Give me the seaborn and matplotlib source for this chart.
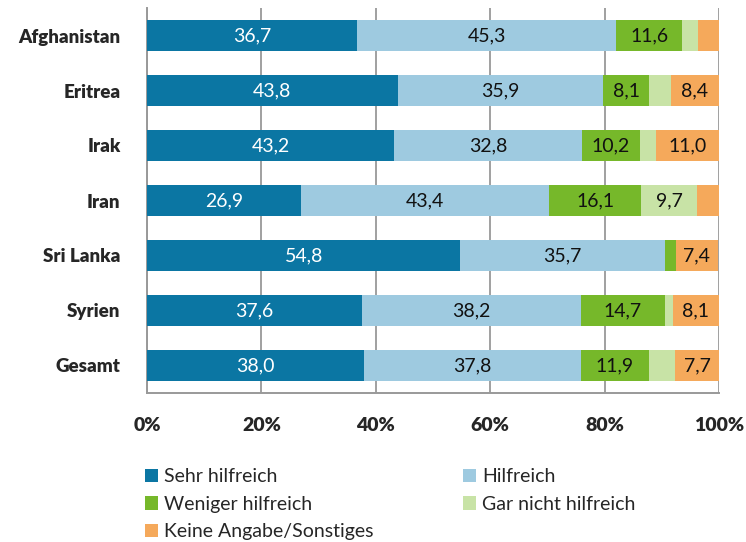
import matplotlib
matplotlib.use("Agg")
import matplotlib.pyplot as plt
from matplotlib import font_manager
from matplotlib.patches import Patch
import numpy as np
import pandas as pd
import seaborn as sns

countries = ["Afghanistan", "Eritrea", "Irak", "Iran", "Sri Lanka", "Syrien", "Gesamt"]
sehr_hilfreich = [36.7, 43.8, 43.2, 26.9, 54.8, 37.6, 38.0]
hilfreich = [45.3, 35.9, 32.8, 43.4, 35.7, 38.2, 37.8]
weniger_hilfreich = [11.6, 8.1, 10.2, 16.1, 1.9, 14.7, 11.9]
gar_nicht_hilfreich = [2.8, 3.8, 2.8, 9.7, 0.0, 1.4, 4.6]
keine_angabe = [3.6, 8.4, 11.0, 3.9, 7.4, 8.1, 7.7]

series_names = ["Sehr hilfreich", "Hilfreich", "Weniger hilfreich",
                "Gar nicht hilfreich", "Keine Angabe/Sonstiges"]
series_values = [sehr_hilfreich, hilfreich, weniger_hilfreich,
                 gar_nicht_hilfreich, keine_angabe]
colors = ["#0b76a3", "#9ecae0", "#76b82a", "#c8e3a6", "#f5a95b"]
text_colors = ["white", "#111111", "#111111", "#111111", "#111111"]
# segments that carry a printed value
labelled = [
    [True] * 7,
    [True] * 7,
    [True, True, True, True, False, True, True],
    [False, False, False, True, False, False, False],
    [False, True, True, False, True, True, True],
]
xticks = [0, 20, 40, 60, 80, 100]
xtick_labels = ["0%", "20%", "40%", "60%", "80%", "100%"]

sns.set_theme(style="white")
available = {f.name for f in font_manager.fontManager.ttflist}
base_font = "Lato" if "Lato" in available else "DejaVu Sans"
plt.rcParams["font.family"] = [base_font, "DejaVu Sans"]

fig = plt.figure(figsize=(7.46, 5.42), dpi=100)
ax = fig.add_axes([147 / 746, 1 - 393 / 542, 572 / 746, 385 / 542])

df = pd.DataFrame({"Land": countries})
cum = np.zeros(len(countries))
cums = []
for vals in series_values:
    cum = cum + np.array(vals)
    cums.append(cum.copy())

# stacked bars: draw cumulative totals from the outermost layer inward
for i in range(len(series_values) - 1, -1, -1):
    df["wert"] = cums[i]
    sns.barplot(data=df, y="Land", x="wert", orient="h", color=colors[i],
                saturation=1, width=0.58, ax=ax, zorder=3, linewidth=0)

for i, vals in enumerate(series_values):
    starts = cums[i] - np.array(vals)
    for j, v in enumerate(vals):
        if labelled[i][j]:
            ax.text(starts[j] + v / 2, j, f"{v:.1f}".replace(".", ","),
                    ha="center", va="center", color=text_colors[i],
                    fontsize=14, zorder=5)

ax.set_xlim(0, 100)
ax.set_ylim(6.5, -0.5)
ax.set_xticks(xticks)
ax.set_xticklabels(xtick_labels, fontsize=14, fontweight="heavy")
ax.set_yticks(range(len(countries)))
ax.set_yticklabels(countries, fontsize=13.5, fontweight="heavy")
ax.set_yticks(np.arange(-0.5, len(countries), 1), minor=True)
ax.tick_params(axis="y", which="major", length=0, pad=19)
ax.tick_params(axis="y", which="minor", length=10, width=1.3, color="#999999", direction="out")
ax.tick_params(axis="x", which="major", length=5, width=1.3, color="#999999", direction="out", pad=12)
ax.set_xlabel("")
ax.set_ylabel("")
ax.grid(axis="x", color="#a0a0a0", linewidth=1.4, zorder=0)
ax.set_axisbelow(True)
for side in ["top", "right"]:
    ax.spines[side].set_visible(False)
for side in ["left", "bottom"]:
    ax.spines[side].set_color("#999999")
    ax.spines[side].set_linewidth(1.4)

handles = [Patch(facecolor=colors[k], edgecolor="none") for k in [0, 2, 4, 1, 3]]
labels = [series_names[k] for k in [0, 2, 4, 1, 3]]
fig.legend(handles, labels, ncol=2, loc="upper left",
           bbox_to_anchor=(145 / 746, 1 - 468 / 542), frameon=False,
           fontsize=14, handlelength=0.68, handleheight=0.68, handletextpad=0.3,
           labelspacing=0.55, columnspacing=4.6, borderaxespad=0, borderpad=0)

fig.savefig("out.png", dpi=100)
